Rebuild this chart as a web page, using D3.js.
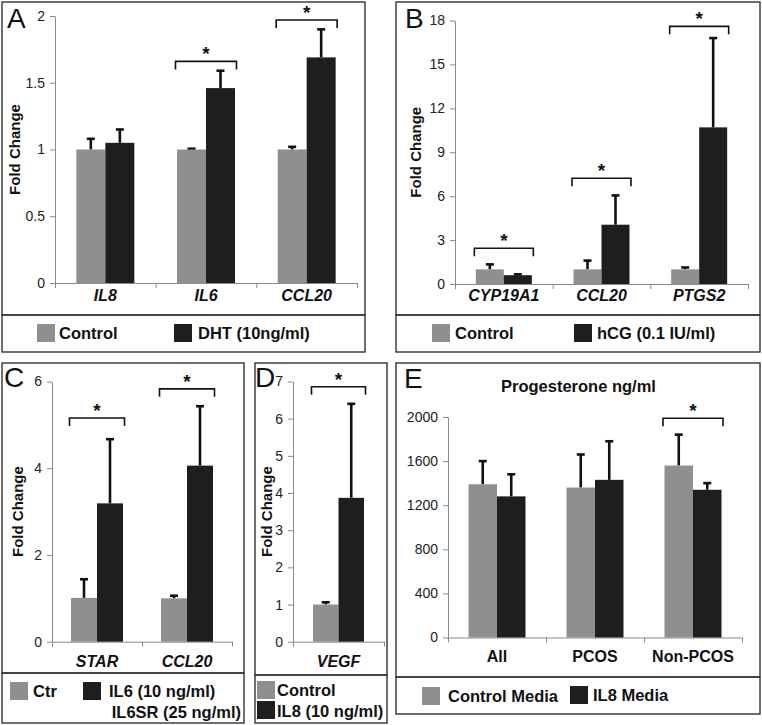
<!DOCTYPE html>
<html>
<head>
<meta charset="utf-8">
<script src="https://cdn.jsdelivr.net/npm/d3@7"></script>
<style>
  body { margin: 0; background: #fff; }
  svg { display: block; font-family: "Liberation Sans", Arial, Helvetica, sans-serif; }
  .tick text { font-size: 14px; fill: #222; }
</style>
</head>
<body>
<svg id="chart"></svg>
<script>
// ---- data ----
const genesA = ['IL8', 'IL6', 'CCL20'];
const controlA = [1.0, 1.0, 1.0];
const controlErrA = [0.08, 0.006, 0.02];
const dhtA = [1.05, 1.46, 1.69];
const dhtErrA = [0.10, 0.13, 0.21];
const ticksA = [0, 0.5, 1, 1.5, 2];
const sigA = ['IL6', 'CCL20'];
const sigLevelA = [1.66, 1.97];
const legendA = ['Control', 'DHT (10ng/ml)'];

const genesB = ['CYP19A1', 'CCL20', 'PTGS2'];
const controlB = [1.0, 1.0, 1.0];
const controlErrB = [0.34, 0.6, 0.13];
const hcgB = [0.6, 4.05, 10.7];
const hcgErrB = [0.06, 2.0, 6.1];
const ticksB = [0, 3, 6, 9, 12, 15, 18];
const sigB = ['CYP19A1', 'CCL20', 'PTGS2'];
const sigLevelB = [2.44, 7.22, 17.6];
const legendB = ['Control', 'hCG (0.1 IU/ml)'];

const genesC = ['STAR', 'CCL20'];
const controlC = [1.01, 1.0];
const controlErrC = [0.43, 0.06];
const il6C = [3.19, 4.06];
const il6ErrC = [1.48, 1.37];
const ticksC = [0, 2, 4, 6];
const sigC = ['STAR', 'CCL20'];
const sigLevelC = [5.16, 5.83];
const legendC = ['Ctr', 'IL6 (10 ng/ml)', 'IL6SR (25 ng/ml)'];

const genesD = ['VEGF'];
const controlD = [1.0];
const controlErrD = [0.06];
const il8D = [3.87];
const il8ErrD = [2.53];
const ticksD = [0, 1, 2, 3, 4, 5, 6, 7];
const sigD = ['VEGF'];
const sigLevelD = [6.86];
const legendD = ['Control', 'IL8 (10 ng/ml)'];

const groupsE = ['All', 'PCOS', 'Non-PCOS'];
const controlE = [1390, 1360, 1560];
const controlErrE = [210, 300, 280];
const il8E = [1280, 1430, 1340];
const il8ErrE = [200, 350, 60];
const ticksE = [0, 400, 800, 1200, 1600, 2000];
const sigE = ['Non-PCOS'];
const sigLevelE = [1988];
const legendE = ['Control Media', 'IL8 Media'];
const titleE = 'Progesterone ng/ml';

// ---- drawing ----
const width = 762;
const height = 725;
const GRAY = '#8f8f8f';
const BLACK = '#1e1e1e';
const AXIS = '#8a8a8a';

const svg = d3.select('#chart').attr('width', width).attr('height', height);

function box(x, y, w, h) {
  svg.append('rect')
    .attr('x', x).attr('y', y).attr('width', w).attr('height', h)
    .attr('fill', 'none').attr('stroke', '#333').attr('stroke-width', 1.4);
}

function swatch(x, y, color, label, size) {
  svg.append('rect')
    .attr('x', x).attr('y', y).attr('width', size).attr('height', size)
    .attr('fill', color);
}

function legendText(x, y, text, anchor) {
  svg.append('text')
    .attr('x', x).attr('y', y)
    .attr('dy', '0.35em')
    .attr('text-anchor', anchor || 'start')
    .style('font-size', '16.5px').style('font-weight', 'bold').style('fill', '#111')
    .text(text);
}

function drawPanel(cfg) {
  const y = d3.scaleLinear()
    .domain([0, d3.max(cfg.ticks)])
    .range([cfg.bottom, cfg.top]);

  const x = d3.scaleBand()
    .domain(cfg.cats)
    .range([cfg.left, cfg.right]);

  const xs = d3.scaleBand()
    .domain(['control', 'treated'])
    .range([-cfg.barW, cfg.barW]);

  const color = d3.scaleOrdinal().domain(['control', 'treated']).range([GRAY, BLACK]);

  const rows = [];
  cfg.cats.forEach((c, i) => {
    rows.push({ cat: c, s: 'control', v: cfg.a[i], e: cfg.aErr[i] });
    rows.push({ cat: c, s: 'treated', v: cfg.b[i], e: cfg.bErr[i] });
  });

  const g = svg.append('g');

  // y axis
  const yAxis = d3.axisLeft(y)
    .tickValues(cfg.ticks)
    .tickSize(5)
    .tickSizeOuter(0)
    .tickPadding(5)
    .tickFormat(d3.format('~g'));
  const ya = g.append('g')
    .attr('transform', `translate(${cfg.left}, 0)`)
    .call(yAxis);
  ya.select('.domain').attr('stroke', AXIS);
  ya.selectAll('.tick line').attr('stroke', AXIS);

  // x axis (category boundaries)
  const xb = d3.scaleLinear().domain([0, cfg.cats.length]).range([cfg.left, cfg.right]);
  const xa = g.append('g')
    .attr('transform', `translate(0, ${y(0)})`)
    .call(d3.axisBottom(xb)
      .tickValues(d3.range(0, cfg.cats.length + 1))
      .tickSize(5)
      .tickSizeOuter(0)
      .tickFormat(''));
  xa.select('.domain').attr('stroke', AXIS);
  xa.selectAll('.tick line').attr('stroke', AXIS);

  // error bars (upper only)
  const err = g.selectAll('.err')
    .data(rows)
    .enter()
    .append('g')
    .attr('class', 'err')
    .attr('transform', d => `translate(${x(d.cat) + x.bandwidth() / 2 + xs(d.s) + xs.bandwidth() / 2}, 0)`);
  err.append('line')
    .attr('x1', 0).attr('x2', 0)
    .attr('y1', d => y(d.v)).attr('y2', d => y(d.v + d.e))
    .attr('stroke', '#111').attr('stroke-width', 2.6);
  err.append('line')
    .attr('x1', -4).attr('x2', 4)
    .attr('y1', d => y(d.v + d.e)).attr('y2', d => y(d.v + d.e))
    .attr('stroke', '#111').attr('stroke-width', 2.6);

  // bars
  g.selectAll('.bar')
    .data(rows)
    .enter()
    .append('rect')
    .attr('class', 'bar')
    .attr('x', d => x(d.cat) + x.bandwidth() / 2 + xs(d.s))
    .attr('width', xs.bandwidth())
    .attr('y', d => y(d.v))
    .attr('height', d => y(0) - y(d.v))
    .attr('fill', d => color(d.s));

  // category labels
  g.selectAll('.cat')
    .data(cfg.cats)
    .enter()
    .append('text')
    .attr('x', d => x(d) + x.bandwidth() / 2)
    .attr('y', cfg.catY)
    .attr('text-anchor', 'middle')
    .style('font-size', '16px')
    .style('font-weight', 'bold')
    .style('font-style', cfg.italic ? 'italic' : 'normal')
    .style('fill', '#111')
    .text(d => d);

  // significance brackets
  cfg.sig.forEach((c, i) => {
    const cx = x(c) + x.bandwidth() / 2;
    const by = y(cfg.sigLevel[i]);
    const half = cfg.barW + 1.5;
    g.append('path')
      .attr('d', `M${cx - half},${by + 8}V${by}H${cx + half}V${by + 8}`)
      .attr('fill', 'none').attr('stroke', '#111').attr('stroke-width', 1.6);
    g.append('text')
      .attr('x', cx).attr('y', by - 1)
      .attr('text-anchor', 'middle')
      .style('font-size', '19px').style('font-weight', 'bold').style('fill', '#111')
      .text('*');
  });

  // y title
  if (cfg.foldX) {
    g.append('text')
      .attr('transform', `translate(${cfg.foldX}, ${(cfg.top + cfg.bottom) / 2}) rotate(-90)`)
      .attr('dy', '0.35em')
      .attr('text-anchor', 'middle')
      .style('font-size', '15px').style('font-weight', 'bold').style('fill', '#111')
      .text('Fold Change');
  }

  // panel letter
  g.append('text')
    .attr('x', cfg.letterX).attr('y', cfg.letterY)
    .style('font-size', '28px').style('fill', '#111')
    .text(cfg.letter);
}

// A
box(2, 2, 363, 313);
box(2, 315, 363, 37);
drawPanel({
  cats: genesA, a: controlA, aErr: controlErrA, b: dhtA, bErr: dhtErrA,
  ticks: ticksA, sig: sigA, sigLevel: sigLevelA,
  left: 55, right: 357, top: 16, bottom: 283, barW: 29,
  catY: 301, italic: true, foldX: 15, letter: 'A', letterX: 7, letterY: 28
});
swatch(37, 324, GRAY, legendA[0], 18);
legendText(59, 333, legendA[0]);
swatch(174, 324, BLACK, legendA[1], 18);
legendText(198, 333, legendA[1]);

// B
box(396, 2, 364, 313);
box(396, 315, 364, 37);
drawPanel({
  cats: genesB, a: controlB, aErr: controlErrB, b: hcgB, bErr: hcgErrB,
  ticks: ticksB, sig: sigB, sigLevel: sigLevelB,
  left: 455, right: 748, top: 20.5, bottom: 284, barW: 28,
  catY: 301, italic: true, foldX: 416, letter: 'B', letterX: 405, letterY: 28
});
swatch(432, 324, GRAY, legendB[0], 18);
legendText(455, 333, legendB[0]);
swatch(574, 324, BLACK, legendB[1], 18);
legendText(597, 333, legendB[1]);

// C
box(2, 363, 242, 310);
box(2, 673, 242, 50);
drawPanel({
  cats: genesC, a: controlC, aErr: controlErrC, b: il6C, bErr: il6ErrC,
  ticks: ticksC, sig: sigC, sigLevel: sigLevelC,
  left: 52, right: 232, top: 381.5, bottom: 641.7, barW: 26,
  catY: 667, italic: true, foldX: 18, letter: 'C', letterX: 4, letterY: 387
});
swatch(10, 682, GRAY, legendC[0], 18);
legendText(33, 691, legendC[0]);
swatch(83, 682, BLACK, legendC[1], 18);
legendText(109, 691, legendC[1]);
legendText(241, 712, legendC[2], 'end');

// D
box(255, 363, 132, 312);
box(255, 675, 132, 48);
drawPanel({
  cats: genesD, a: controlD, aErr: controlErrD, b: il8D, bErr: il8ErrD,
  ticks: ticksD, sig: sigD, sigLevel: sigLevelD,
  left: 293, right: 384, top: 381.5, bottom: 641.7, barW: 25.5,
  catY: 667, italic: true, foldX: 267, letter: 'D', letterX: 255, letterY: 387
});
swatch(257, 681, GRAY, legendD[0], 18);
legendText(277, 690, legendD[0]);
swatch(257, 701, BLACK, legendD[1], 18);
legendText(277, 711, legendD[1]);

// E
box(396, 363, 364, 314);
box(396, 677, 364, 37);
drawPanel({
  cats: groupsE, a: controlE, aErr: controlErrE, b: il8E, bErr: il8ErrE,
  ticks: ticksE, sig: sigE, sigLevel: sigLevelE,
  left: 448, right: 742, top: 417, bottom: 637.5, barW: 28.5,
  catY: 662, italic: false, foldX: null, letter: 'E', letterX: 404, letterY: 388
});
svg.append('text')
  .attr('x', 501).attr('y', 392)
  .style('font-size', '16.5px').style('font-weight', 'bold').style('fill', '#111')
  .text(titleE);
swatch(422, 687, GRAY, legendE[0], 18);
legendText(448, 696, legendE[0]);
swatch(570, 686, BLACK, legendE[1], 18);
legendText(593, 695, legendE[1]);
</script>
</body>
</html>
